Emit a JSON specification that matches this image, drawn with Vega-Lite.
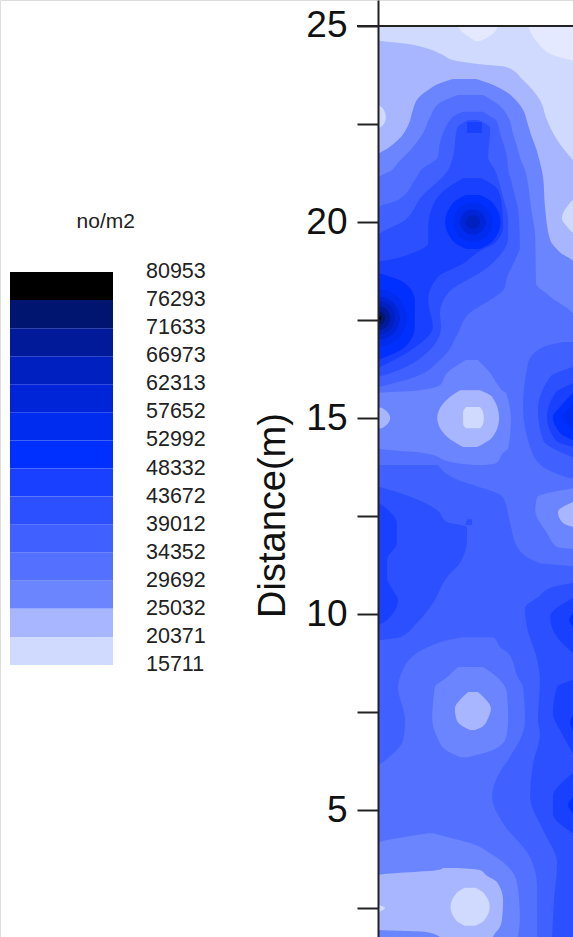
{"$schema":"https://vega.github.io/schema/vega-lite/v6.json","width":573,"height":937,"padding":0,"autosize":{"type":"none"},"background":"white",
"datasets":{"regions":[
{"r":1,"v":32000,"x":0,"x2":5,"y":25},{"r":1,"v":32000,"x":0,"x2":5,"y":1.76},
{"r":2,"v":22700,"x":0,"x2":5,"y":25},{"r":2,"v":22700,"x":0,"x2":5,"y":18.93},
{"r":3,"v":18000,"x":0,"x2":5,"y":25},{"r":3,"v":18000,"x":0,"x2":5,"y":24.64},{"r":3,"v":18000,"x":0.77,"x2":5,"y":24.54},{"r":3,"v":18000,"x":1.15,"x2":5,"y":24.46},{"r":3,"v":18000,"x":1.66,"x2":5,"y":24.26},{"r":3,"v":18000,"x":1.91,"x2":5,"y":24.13},{"r":3,"v":18000,"x":2.55,"x2":5,"y":24.03},{"r":3,"v":18000,"x":3.29,"x2":5,"y":23.95},{"r":3,"v":18000,"x":3.7,"x2":5,"y":23.62},{"r":3,"v":18000,"x":4.13,"x2":5,"y":23.11},{"r":3,"v":18000,"x":4.31,"x2":5,"y":22.6},{"r":3,"v":18000,"x":4.57,"x2":5,"y":22.09},{"r":3,"v":18000,"x":4.97,"x2":5,"y":21.58},
{"r":4,"v":13000,"x":2.04,"x2":3.06,"y":25},{"r":4,"v":13000,"x":2.14,"x2":2.98,"y":24.85},{"r":4,"v":13000,"x":2.37,"x2":2.76,"y":24.69},{"r":4,"v":13000,"x":2.47,"x2":2.6,"y":24.62},
{"r":5,"v":13000,"x":3.83,"x2":5,"y":25},{"r":5,"v":13000,"x":4.06,"x2":5,"y":24.59},{"r":5,"v":13000,"x":4.46,"x2":5,"y":24.26},{"r":5,"v":13000,"x":5,"x2":5,"y":24.11},
{"r":6,"v":18000,"x":4.97,"x2":5.2,"y":20.56},{"r":6,"v":18000,"x":4.85,"x2":5.2,"y":20.43},{"r":6,"v":18000,"x":4.69,"x2":5.2,"y":20.1},{"r":6,"v":18000,"x":4.85,"x2":5.2,"y":19.85},{"r":6,"v":18000,"x":5.03,"x2":5.2,"y":19.67},
{"r":7,"v":27360,"x":1.91,"x2":2.5,"y":23.65},{"r":7,"v":27360,"x":1.53,"x2":2.88,"y":23.52},{"r":7,"v":27360,"x":1.28,"x2":3.19,"y":23.37},{"r":7,"v":27360,"x":1.02,"x2":3.47,"y":23.16},{"r":7,"v":27360,"x":0.89,"x2":3.7,"y":22.86},{"r":7,"v":27360,"x":0.77,"x2":3.83,"y":22.47},{"r":7,"v":27360,"x":0.51,"x2":3.95,"y":22.09},{"r":7,"v":27360,"x":0.26,"x2":4.03,"y":21.89},{"r":7,"v":27360,"x":0,"x2":4.08,"y":21.71},{"r":7,"v":27360,"x":0,"x2":4.21,"y":21.15},{"r":7,"v":27360,"x":0,"x2":4.26,"y":20.38},{"r":7,"v":27360,"x":0,"x2":4.39,"y":19.54},{"r":7,"v":27360,"x":0,"x2":4.64,"y":19.23},{"r":7,"v":27360,"x":0,"x2":5,"y":18.95},{"r":7,"v":27360,"x":0,"x2":5,"y":17.58},
{"r":8,"v":18000,"x":0,"x2":0.03,"y":22.98},{"r":8,"v":18000,"x":0,"x2":0.15,"y":22.86},{"r":8,"v":18000,"x":0,"x2":0.2,"y":22.68},{"r":8,"v":18000,"x":0,"x2":0.15,"y":22.5},{"r":8,"v":18000,"x":0,"x2":0.03,"y":22.4},
{"r":9,"v":32000,"x":2.04,"x2":2.68,"y":23.24},{"r":9,"v":32000,"x":1.58,"x2":3.01,"y":23.04},{"r":9,"v":32000,"x":1.33,"x2":3.32,"y":22.68},{"r":9,"v":32000,"x":1.15,"x2":3.44,"y":22.27},{"r":9,"v":32000,"x":0.89,"x2":3.55,"y":21.91},{"r":9,"v":32000,"x":0.51,"x2":3.67,"y":21.51},{"r":9,"v":32000,"x":0.36,"x2":3.75,"y":21.33},{"r":9,"v":32000,"x":0,"x2":3.8,"y":21.12},{"r":9,"v":32000,"x":0,"x2":3.9,"y":20.38},{"r":9,"v":32000,"x":0,"x2":4.01,"y":19.62},{"r":9,"v":32000,"x":0,"x2":4.03,"y":18.44},{"r":9,"v":32000,"x":0,"x2":4.34,"y":18.14},{"r":9,"v":32000,"x":0,"x2":5,"y":17.58},{"r":9,"v":32000,"x":0,"x2":5,"y":17},
{"r":10,"v":36700,"x":2.17,"x2":2.68,"y":22.81},{"r":10,"v":36700,"x":1.91,"x2":2.88,"y":22.68},{"r":10,"v":36700,"x":1.84,"x2":3.01,"y":22.6},{"r":10,"v":36700,"x":1.66,"x2":3.11,"y":22.27},{"r":10,"v":36700,"x":1.58,"x2":3.19,"y":22.02},{"r":10,"v":36700,"x":1.53,"x2":3.29,"y":21.66},{"r":10,"v":36700,"x":1.1,"x2":3.32,"y":21.33},{"r":10,"v":36700,"x":0.94,"x2":3.39,"y":21.07},{"r":10,"v":36700,"x":0.51,"x2":3.52,"y":20.56},{"r":10,"v":36700,"x":0,"x2":3.57,"y":20.36},{"r":10,"v":36700,"x":0,"x2":3.62,"y":19.36},{"r":10,"v":36700,"x":0,"x2":3.52,"y":19.08},{"r":10,"v":36700,"x":0,"x2":3.27,"y":18.52},{"r":10,"v":36700,"x":0,"x2":3.24,"y":18.34},{"r":10,"v":36700,"x":0,"x2":2.24,"y":17.58},{"r":10,"v":36700,"x":0,"x2":2.04,"y":17.17},{"r":10,"v":36700,"x":0,"x2":1.58,"y":16.48},{"r":10,"v":36700,"x":0,"x2":0.94,"y":16.05},{"r":10,"v":36700,"x":0,"x2":0,"y":15.79},
{"r":11,"v":41300,"x":2.3,"x2":2.55,"y":22.6},{"r":11,"v":41300,"x":2.02,"x2":2.86,"y":22.4},{"r":11,"v":41300,"x":1.91,"x2":2.81,"y":21.66},{"r":11,"v":41300,"x":1.79,"x2":2.98,"y":21.33},{"r":11,"v":41300,"x":1.1,"x2":3.19,"y":20.64},{"r":11,"v":41300,"x":0.69,"x2":3.32,"y":20.05},{"r":11,"v":41300,"x":0,"x2":3.32,"y":19.62},{"r":11,"v":41300,"x":0,"x2":2.81,"y":18.85},{"r":11,"v":41300,"x":0,"x2":1.79,"y":18.19},{"r":11,"v":41300,"x":0,"x2":1.58,"y":17.68},{"r":11,"v":41300,"x":0,"x2":1.61,"y":17.32},{"r":11,"v":41300,"x":0,"x2":1.02,"y":16.48},{"r":11,"v":41300,"x":0,"x2":0.33,"y":16.15},{"r":11,"v":41300,"x":0,"x2":0,"y":16.05},
{"r":12,"v":46000,"x":2.27,"x2":2.65,"y":22.55},{"r":12,"v":46000,"x":2.27,"x2":2.65,"y":22.27},
{"r":13,"v":46000,"x":2.17,"x2":2.63,"y":21.12},{"r":13,"v":46000,"x":1.71,"x2":3.06,"y":20.82},{"r":13,"v":46000,"x":1.4,"x2":3.16,"y":20.43},{"r":13,"v":46000,"x":1.28,"x2":3.19,"y":19.87},{"r":13,"v":46000,"x":1.28,"x2":2.98,"y":19.46},{"r":13,"v":46000,"x":1.07,"x2":2.65,"y":19.29},{"r":13,"v":46000,"x":0.26,"x2":2.3,"y":19.03},{"r":13,"v":46000,"x":0,"x2":2.24,"y":18.98},{"r":13,"v":46000,"x":0,"x2":1.53,"y":18.6},{"r":13,"v":46000,"x":0,"x2":1.28,"y":18.01},{"r":13,"v":46000,"x":0,"x2":1.4,"y":17.32},{"r":13,"v":46000,"x":0,"x2":0.84,"y":16.73},{"r":13,"v":46000,"x":0,"x2":0,"y":16.28},
{"r":14,"v":50660,"x":2.24,"x2":2.6,"y":20.69},{"r":14,"v":50660,"x":1.92,"x2":2.92,"y":20.5},{"r":14,"v":50660,"x":1.71,"x2":3.13,"y":20},{"r":14,"v":50660,"x":1.92,"x2":2.92,"y":19.5},{"r":14,"v":50660,"x":2.24,"x2":2.6,"y":19.31},
{"r":15,"v":55300,"x":2.29,"x2":2.55,"y":20.49},{"r":15,"v":55300,"x":2.06,"x2":2.78,"y":20.36},{"r":15,"v":55300,"x":1.91,"x2":2.93,"y":20},{"r":15,"v":55300,"x":2.06,"x2":2.78,"y":19.64},{"r":15,"v":55300,"x":2.29,"x2":2.55,"y":19.51},
{"r":16,"v":60000,"x":2.34,"x2":2.5,"y":20.32},{"r":16,"v":60000,"x":2.19,"x2":2.65,"y":20.23},{"r":16,"v":60000,"x":2.09,"x2":2.75,"y":20},{"r":16,"v":60000,"x":2.19,"x2":2.65,"y":19.77},{"r":16,"v":60000,"x":2.34,"x2":2.5,"y":19.68},
{"r":17,"v":64600,"x":2.37,"x2":2.47,"y":20.17},{"r":17,"v":64600,"x":2.29,"x2":2.55,"y":20.13},{"r":17,"v":64600,"x":2.24,"x2":2.6,"y":20},{"r":17,"v":64600,"x":2.29,"x2":2.55,"y":19.87},{"r":17,"v":64600,"x":2.37,"x2":2.47,"y":19.83},
{"r":18,"v":50660,"x":0,"x2":0,"y":18.7},{"r":18,"v":50660,"x":0,"x2":0.69,"y":18.44},{"r":18,"v":50660,"x":0,"x2":0.94,"y":18.01},{"r":18,"v":50660,"x":0,"x2":0.94,"y":17.32},{"r":18,"v":50660,"x":0,"x2":0.69,"y":16.81},{"r":18,"v":50660,"x":0,"x2":0,"y":16.48},
{"r":19,"v":55300,"x":0,"x2":0.19,"y":18.27},{"r":19,"v":55300,"x":0,"x2":0.53,"y":18.07},{"r":19,"v":55300,"x":0,"x2":0.74,"y":17.55},{"r":19,"v":55300,"x":0,"x2":0.53,"y":17.03},{"r":19,"v":55300,"x":0,"x2":0.19,"y":16.83},
{"r":20,"v":60000,"x":0,"x2":0.14,"y":18.09},{"r":20,"v":60000,"x":0,"x2":0.4,"y":17.94},{"r":20,"v":60000,"x":0,"x2":0.56,"y":17.55},{"r":20,"v":60000,"x":0,"x2":0.4,"y":17.16},{"r":20,"v":60000,"x":0,"x2":0.14,"y":17.01},
{"r":21,"v":64600,"x":0,"x2":0.11,"y":17.97},{"r":21,"v":64600,"x":0,"x2":0.31,"y":17.85},{"r":21,"v":64600,"x":0,"x2":0.43,"y":17.55},{"r":21,"v":64600,"x":0,"x2":0.31,"y":17.25},{"r":21,"v":64600,"x":0,"x2":0.11,"y":17.13},
{"r":22,"v":69300,"x":0,"x2":0.08,"y":17.85},{"r":22,"v":69300,"x":0,"x2":0.22,"y":17.77},{"r":22,"v":69300,"x":0,"x2":0.31,"y":17.55},{"r":22,"v":69300,"x":0,"x2":0.22,"y":17.33},{"r":22,"v":69300,"x":0,"x2":0.08,"y":17.25},
{"r":23,"v":74000,"x":0,"x2":0.05,"y":17.72},{"r":23,"v":74000,"x":0,"x2":0.13,"y":17.68},{"r":23,"v":74000,"x":0,"x2":0.18,"y":17.55},{"r":23,"v":74000,"x":0,"x2":0.13,"y":17.42},{"r":23,"v":74000,"x":0,"x2":0.05,"y":17.38},
{"r":24,"v":78600,"x":0,"x2":0.02,"y":17.63},{"r":24,"v":78600,"x":0,"x2":0.08,"y":17.55},{"r":24,"v":78600,"x":0,"x2":0.02,"y":17.47},
{"r":25,"v":36700,"x":4.72,"x2":5.2,"y":16.94},{"r":25,"v":36700,"x":4.21,"x2":5.2,"y":16.81},{"r":25,"v":36700,"x":3.83,"x2":5.2,"y":16.4},{"r":25,"v":36700,"x":3.7,"x2":5.2,"y":15.28},{"r":25,"v":36700,"x":3.88,"x2":5.2,"y":14.26},{"r":25,"v":36700,"x":4.21,"x2":5.2,"y":13.75},{"r":25,"v":36700,"x":4.85,"x2":5.2,"y":13.47},
{"r":26,"v":41300,"x":4.97,"x2":5.2,"y":16.3},{"r":26,"v":41300,"x":4.39,"x2":5.2,"y":16.05},{"r":26,"v":41300,"x":4.08,"x2":5.2,"y":15.2},{"r":26,"v":41300,"x":4.21,"x2":5.2,"y":14.44},{"r":26,"v":41300,"x":4.97,"x2":5.2,"y":14},
{"r":27,"v":46000,"x":4.97,"x2":5.2,"y":15.89},{"r":27,"v":46000,"x":4.52,"x2":5.2,"y":15.64},{"r":27,"v":46000,"x":4.31,"x2":5.2,"y":15.03},{"r":27,"v":46000,"x":4.52,"x2":5.2,"y":14.44},{"r":27,"v":46000,"x":4.97,"x2":5.2,"y":14.26},
{"r":28,"v":50660,"x":4.97,"x2":5.2,"y":15.64},{"r":28,"v":50660,"x":4.64,"x2":5.2,"y":15.28},{"r":28,"v":50660,"x":4.46,"x2":5.2,"y":15.03},{"r":28,"v":50660,"x":4.64,"x2":5.2,"y":14.62},{"r":28,"v":50660,"x":4.97,"x2":5.2,"y":14.44},
{"r":29,"v":55300,"x":4.97,"x2":5.2,"y":15.33},{"r":29,"v":55300,"x":4.72,"x2":5.2,"y":15.03},{"r":29,"v":55300,"x":4.97,"x2":5.2,"y":14.69},
{"r":30,"v":36700,"x":0,"x2":1.53,"y":13.8},{"r":30,"v":36700,"x":0,"x2":2.04,"y":13.42},{"r":30,"v":36700,"x":0,"x2":2.42,"y":13.29},{"r":30,"v":36700,"x":0,"x2":3.19,"y":12.98},{"r":30,"v":36700,"x":0,"x2":3.37,"y":12.32},{"r":30,"v":36700,"x":0,"x2":3.55,"y":11.71},{"r":30,"v":36700,"x":0,"x2":4.13,"y":11.3},{"r":30,"v":36700,"x":0,"x2":5,"y":11.2},{"r":30,"v":36700,"x":0,"x2":5,"y":1.76},
{"r":31,"v":27360,"x":2.24,"x2":2.55,"y":16.48},{"r":31,"v":27360,"x":1.76,"x2":2.86,"y":16.15},{"r":31,"v":27360,"x":1.58,"x2":3.06,"y":15.84},{"r":31,"v":27360,"x":0.89,"x2":3.19,"y":15.69},{"r":31,"v":27360,"x":0,"x2":3.27,"y":15.64},{"r":31,"v":27360,"x":0,"x2":3.39,"y":14.95},{"r":31,"v":27360,"x":0,"x2":3.32,"y":14.23},{"r":31,"v":27360,"x":1.15,"x2":3.19,"y":14.11},{"r":31,"v":27360,"x":2.02,"x2":3.01,"y":13.85},{"r":31,"v":27360,"x":2.55,"x2":2.68,"y":13.8},
{"r":32,"v":22700,"x":2.09,"x2":2.6,"y":15.71},{"r":32,"v":22700,"x":1.84,"x2":2.91,"y":15.54},{"r":32,"v":22700,"x":1.51,"x2":3.09,"y":15},{"r":32,"v":22700,"x":1.76,"x2":2.93,"y":14.52},{"r":32,"v":22700,"x":2.17,"x2":2.53,"y":14.26},
{"r":33,"v":18000,"x":2.25,"x2":2.6,"y":15.28},{"r":33,"v":18000,"x":2.17,"x2":2.68,"y":15.15},{"r":33,"v":18000,"x":2.17,"x2":2.7,"y":15},{"r":33,"v":18000,"x":2.17,"x2":2.68,"y":14.85},{"r":33,"v":18000,"x":2.25,"x2":2.6,"y":14.74},
{"r":34,"v":22700,"x":0,"x2":0.1,"y":15.26},{"r":34,"v":22700,"x":0,"x2":0.26,"y":15.13},{"r":34,"v":22700,"x":0,"x2":0.31,"y":15},{"r":34,"v":22700,"x":0,"x2":0.26,"y":14.87},{"r":34,"v":22700,"x":0,"x2":0.1,"y":14.74},
{"r":35,"v":32000,"x":2.17,"x2":2.93,"y":9.41},{"r":35,"v":32000,"x":1.79,"x2":3.01,"y":9.34},{"r":35,"v":32000,"x":1.28,"x2":3.11,"y":9.16},{"r":35,"v":32000,"x":0.99,"x2":3.32,"y":9.01},{"r":35,"v":32000,"x":0.56,"x2":3.57,"y":8.39},{"r":35,"v":32000,"x":0.51,"x2":3.7,"y":8.14},{"r":35,"v":32000,"x":0.69,"x2":3.75,"y":7.3},{"r":35,"v":32000,"x":0.64,"x2":3.62,"y":6.79},{"r":35,"v":32000,"x":0.48,"x2":3.47,"y":6.53},{"r":35,"v":32000,"x":0.2,"x2":3.32,"y":6.28},{"r":35,"v":32000,"x":0,"x2":3.19,"y":6.1},{"r":35,"v":32000,"x":0,"x2":2.91,"y":5.33},{"r":35,"v":32000,"x":0,"x2":3.19,"y":4.67},{"r":35,"v":32000,"x":0,"x2":3.88,"y":3.8},{"r":35,"v":32000,"x":0,"x2":4.06,"y":3.04},{"r":35,"v":32000,"x":0,"x2":4.06,"y":1.76},
{"r":36,"v":27360,"x":2.04,"x2":2.68,"y":8.65},{"r":36,"v":27360,"x":1.76,"x2":3.04,"y":8.39},{"r":36,"v":27360,"x":1.45,"x2":3.24,"y":8.14},{"r":36,"v":27360,"x":1.43,"x2":3.29,"y":7.98},{"r":36,"v":27360,"x":1.38,"x2":3.32,"y":7.37},{"r":36,"v":27360,"x":1.51,"x2":3.27,"y":6.86},{"r":36,"v":27360,"x":1.73,"x2":2.93,"y":6.53},{"r":36,"v":27360,"x":2.09,"x2":2.3,"y":6.35},
{"r":37,"v":22700,"x":2.3,"x2":2.55,"y":8.01},{"r":37,"v":22700,"x":2.09,"x2":2.76,"y":7.81},{"r":37,"v":22700,"x":1.96,"x2":2.88,"y":7.6},{"r":37,"v":22700,"x":1.99,"x2":2.81,"y":7.35},{"r":37,"v":22700,"x":2.19,"x2":2.65,"y":7.12},{"r":37,"v":22700,"x":2.35,"x2":2.47,"y":7.04},
{"r":38,"v":27360,"x":1.28,"x2":1.4,"y":4.41},{"r":38,"v":27360,"x":0.64,"x2":1.79,"y":4.31},{"r":38,"v":27360,"x":0,"x2":2.35,"y":4.16},{"r":38,"v":27360,"x":0,"x2":2.86,"y":3.9},{"r":38,"v":27360,"x":0,"x2":3.55,"y":3.14},{"r":38,"v":27360,"x":0,"x2":3.62,"y":2.27},{"r":38,"v":27360,"x":0,"x2":3.57,"y":1.76},
{"r":39,"v":22700,"x":1.66,"x2":2.04,"y":3.52},{"r":39,"v":22700,"x":1.53,"x2":2.6,"y":3.47},{"r":39,"v":22700,"x":0,"x2":2.76,"y":3.34},{"r":39,"v":22700,"x":0,"x2":3.04,"y":3.16},{"r":39,"v":22700,"x":0,"x2":3.19,"y":2.7},{"r":39,"v":22700,"x":0,"x2":3.16,"y":2.19},{"r":39,"v":22700,"x":0,"x2":3.06,"y":1.94},{"r":39,"v":22700,"x":1.22,"x2":3.01,"y":1.89},{"r":39,"v":22700,"x":1.58,"x2":2.93,"y":1.76},
{"r":40,"v":18000,"x":2.22,"x2":2.48,"y":3.02},{"r":40,"v":18000,"x":2,"x2":2.7,"y":2.88},{"r":40,"v":18000,"x":1.85,"x2":2.85,"y":2.53},{"r":40,"v":18000,"x":2,"x2":2.7,"y":2.18},{"r":40,"v":18000,"x":2.22,"x2":2.48,"y":2.05},
{"r":41,"v":18000,"x":0,"x2":0.02,"y":2.58},{"r":41,"v":18000,"x":0,"x2":0.18,"y":2.5},{"r":41,"v":18000,"x":0,"x2":0.02,"y":2.4},
{"r":42,"v":41300,"x":0,"x2":0.05,"y":13.24},{"r":42,"v":41300,"x":0,"x2":0.56,"y":13.09},{"r":42,"v":41300,"x":0,"x2":1.51,"y":12.65},{"r":42,"v":41300,"x":0,"x2":1.76,"y":12.35},{"r":42,"v":41300,"x":0,"x2":2.27,"y":12.22},{"r":42,"v":41300,"x":0,"x2":2.27,"y":11.89},{"r":42,"v":41300,"x":0,"x2":2.09,"y":11.3},{"r":42,"v":41300,"x":0,"x2":1.76,"y":10.94},{"r":42,"v":41300,"x":0,"x2":1.4,"y":10.28},{"r":42,"v":41300,"x":0,"x2":0.99,"y":9.77},{"r":42,"v":41300,"x":0,"x2":0.56,"y":9.41},{"r":42,"v":41300,"x":0,"x2":0.05,"y":9.34},
{"r":43,"v":41300,"x":2.27,"x2":2.4,"y":12.42},{"r":43,"v":41300,"x":2.22,"x2":2.4,"y":12.27},
{"r":44,"v":46000,"x":0,"x2":0.03,"y":12.83},{"r":44,"v":46000,"x":0,"x2":0.26,"y":12.65},{"r":44,"v":46000,"x":0,"x2":0.48,"y":12.32},{"r":44,"v":46000,"x":0,"x2":0.48,"y":11.81},{"r":44,"v":46000,"x":0,"x2":0.23,"y":11.38},{"r":44,"v":46000,"x":0,"x2":0.23,"y":10.94},{"r":44,"v":46000,"x":0,"x2":0.38,"y":10.61},{"r":44,"v":46000,"x":0,"x2":0.51,"y":10.36},{"r":44,"v":46000,"x":0,"x2":0.23,"y":9.85},{"r":44,"v":46000,"x":0,"x2":0.03,"y":9.72},
{"r":45,"v":27360,"x":4.97,"x2":5.2,"y":13.21},{"r":45,"v":27360,"x":4.06,"x2":5.2,"y":12.98},{"r":45,"v":27360,"x":4.01,"x2":5.2,"y":12.65},{"r":45,"v":27360,"x":4.31,"x2":5.2,"y":12.07},{"r":45,"v":27360,"x":4.57,"x2":5.2,"y":11.71},{"r":45,"v":27360,"x":4.97,"x2":5.2,"y":11.66},
{"r":46,"v":22700,"x":4.97,"x2":5.2,"y":12.86},{"r":46,"v":22700,"x":4.59,"x2":5.2,"y":12.6},{"r":46,"v":22700,"x":4.72,"x2":5.2,"y":12.32},{"r":46,"v":22700,"x":4.97,"x2":5.2,"y":12.22},
{"r":47,"v":41300,"x":4.97,"x2":5.2,"y":10.79},{"r":47,"v":41300,"x":4.46,"x2":5.2,"y":10.69},{"r":47,"v":41300,"x":4.08,"x2":5.2,"y":10.43},{"r":47,"v":41300,"x":3.75,"x2":5.2,"y":10.15},{"r":47,"v":41300,"x":3.8,"x2":5.2,"y":9.67},{"r":47,"v":41300,"x":4.06,"x2":5.2,"y":8.83},{"r":47,"v":41300,"x":4.13,"x2":5.2,"y":8.32},{"r":47,"v":41300,"x":4.08,"x2":5.2,"y":7.3},{"r":47,"v":41300,"x":4.13,"x2":5.2,"y":6.96},{"r":47,"v":41300,"x":3.95,"x2":5.2,"y":6.15},{"r":47,"v":41300,"x":3.88,"x2":5.2,"y":5.33},{"r":47,"v":41300,"x":4.21,"x2":5.2,"y":4.49},{"r":47,"v":41300,"x":4.57,"x2":5.2,"y":3.65},{"r":47,"v":41300,"x":4.49,"x2":5.2,"y":2.7},{"r":47,"v":41300,"x":4.44,"x2":5.2,"y":1.76},
{"r":48,"v":46000,"x":4.97,"x2":5.2,"y":10.41},{"r":48,"v":46000,"x":4.39,"x2":5.2,"y":9.92},{"r":48,"v":46000,"x":4.57,"x2":5.2,"y":9.41},{"r":48,"v":46000,"x":4.97,"x2":5.2,"y":9},
{"r":49,"v":46000,"x":4.97,"x2":5.2,"y":8.32},{"r":49,"v":46000,"x":4.57,"x2":5.2,"y":8.14},{"r":49,"v":46000,"x":4.46,"x2":5.2,"y":7.47},{"r":49,"v":46000,"x":4.64,"x2":5.2,"y":7.04},{"r":49,"v":46000,"x":4.82,"x2":5.2,"y":6.71},{"r":49,"v":46000,"x":4.97,"x2":5.2,"y":6.45},
{"r":50,"v":46000,"x":4.97,"x2":5.2,"y":5.94},{"r":50,"v":46000,"x":4.46,"x2":5.2,"y":5.33},{"r":50,"v":46000,"x":4.46,"x2":5.2,"y":4.92},{"r":50,"v":46000,"x":4.97,"x2":5.2,"y":4.41},
{"r":51,"v":50660,"x":4.97,"x2":5.2,"y":10.03},{"r":51,"v":50660,"x":4.88,"x2":5.2,"y":9.85},{"r":51,"v":50660,"x":4.97,"x2":5.2,"y":9.67},
{"r":52,"v":50660,"x":4.97,"x2":5.2,"y":5.33},{"r":52,"v":50660,"x":4.85,"x2":5.2,"y":5.13},{"r":52,"v":50660,"x":4.97,"x2":5.2,"y":4.92},
{"r":53,"v":50660,"x":4.97,"x2":5.2,"y":7.42},{"r":53,"v":50660,"x":4.9,"x2":5.2,"y":7.24},{"r":53,"v":50660,"x":4.97,"x2":5.2,"y":7.04}
],
"bands":[{"hi":80953,"lo":76293,"v":78600},{"hi":76293,"lo":71633,"v":74000},{"hi":71633,"lo":66973,"v":69300},{"hi":66973,"lo":62313,"v":64600},{"hi":62313,"lo":57652,"v":60000},{"hi":57652,"lo":52992,"v":55300},{"hi":52992,"lo":48332,"v":50660},{"hi":48332,"lo":43672,"v":46000},{"hi":43672,"lo":39012,"v":41300},{"hi":39012,"lo":34352,"v":36700},{"hi":34352,"lo":29692,"v":32000},{"hi":29692,"lo":25032,"v":27360},{"hi":25032,"lo":20371,"v":22700},{"hi":20371,"lo":15711,"v":18000}],
"labels":[{"value":80953},{"value":76293},{"value":71633},{"value":66973},{"value":62313},{"value":57652},{"value":52992},{"value":48332},{"value":43672},{"value":39012},{"value":34352},{"value":29692},{"value":25032},{"value":20371},{"value":15711}]},
"layer":[
{"layer":[
{"data":{"name":"regions"},"mark":{"type":"area","orient":"horizontal","interpolate":"monotone"},
"encoding":{"x":{"field":"x","type":"quantitative","stack":null,"axis":null,"scale":{"domain":[-9.643,4.974],"nice":false,"zero":false}},"x2":{"field":"x2"},
"y":{"field":"y","type":"quantitative","scale":{"domain":[1.763,25.663],"nice":false,"zero":false},
"axis":{"title":"Distance(m)","titleFont":"Liberation Sans","titleFontSize":38,"titleFontWeight":"normal","titleColor":"#111","titleX":-86,"titleY":515,"values":[25,22.5,20,17.5,15,12.5,10,7.5,5,2.5],"labelExpr":"datum.value % 5 === 0 ? datum.label : ''","format":"d","labelFont":"Liberation Sans","labelFontSize":37,"labelColor":"#111","labelPadding":10,"labelOverlap":false,"labelFlush":false,"tickSize":21,"tickWidth":2,"tickColor":"#222","domainColor":"#222","domainWidth":2,"grid":false,"offset":-378,"zindex":1}},
"detail":{"field":"r"},
"color":{"field":"v","type":"quantitative","legend":null,"scale":{"type":"threshold","domain":[15711,20371,25032,29692,34352,39012,43672,48332,52992,57652,62313,66973,71633,76293],"range":["#e4e9ff","#d0daff","#a8b6ff","#6b84ff","#5470ff","#4060ff","#2c50ff","#1a40ff","#0030ff","#002cf0","#0024d8","#0020c0","#001a9a","#001570","#000000"]}}}},
{"data":{"values":[{"a":-0.536,"b":5,"y":25}]},"mark":{"type":"rule","stroke":"#222","strokeWidth":2},"encoding":{"x":{"field":"a","type":"quantitative"},"x2":{"field":"b"},"y":{"field":"y","type":"quantitative"}}}
]},
{"layer":[
{"data":{"name":"bands"},"mark":{"type":"rect"},"encoding":{"x":{"datum":0,"type":"quantitative","axis":null,"scale":{"domain":[-0.0971,5.466],"nice":false,"zero":false}},"x2":{"datum":1},"y":{"field":"hi","type":"quantitative","axis":null,"scale":{"domain":[-29441,126105],"nice":false,"zero":false}},"y2":{"field":"lo"},"color":{"field":"v","type":"quantitative","legend":null,"scale":{"type":"threshold","domain":[15711,20371,25032,29692,34352,39012,43672,48332,52992,57652,62313,66973,71633,76293],"range":["#e4e9ff","#d0daff","#a8b6ff","#6b84ff","#5470ff","#4060ff","#2c50ff","#1a40ff","#0030ff","#002cf0","#0024d8","#0020c0","#001a9a","#001570","#000000"]}}}},
{"data":{"name":"labels"},"mark":{"type":"text","align":"left","baseline":"middle","font":"Liberation Sans","fontSize":21.5,"fill":"#222"},"encoding":{"x":{"datum":1.32,"type":"quantitative","axis":null},"y":{"field":"value","type":"quantitative","axis":null},"text":{"field":"value","type":"quantitative","format":"d"}}},
{"data":{"values":[{"t":"no/m2","yy":89253}]},"mark":{"type":"text","align":"center","baseline":"middle","font":"Liberation Sans","fontSize":21,"fill":"#222"},"encoding":{"x":{"datum":0.93,"type":"quantitative","axis":null},"y":{"field":"yy","type":"quantitative","axis":null},"text":{"field":"t"}}}
]}
],
"resolve":{"scale":{"x":"independent","y":"independent","color":"independent"}}
}
